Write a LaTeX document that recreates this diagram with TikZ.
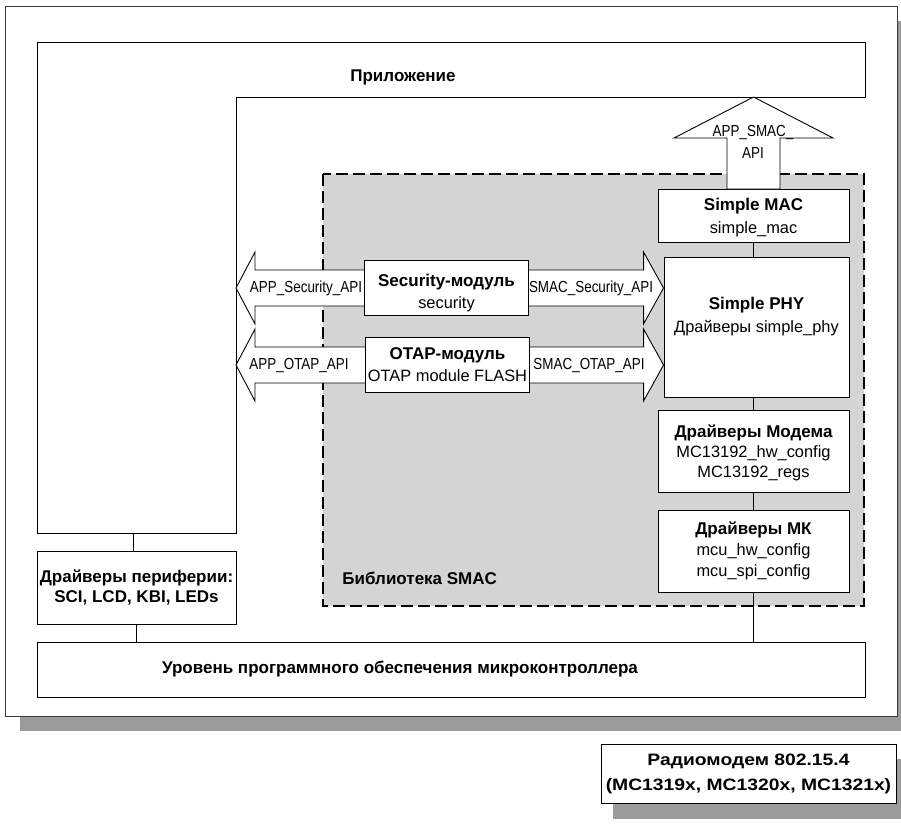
\documentclass[tikz,border=0pt]{standalone}
\usepackage{fontspec}
\setmainfont{Liberation Sans}
\newfontfamily\apifont{Liberation Sans}[FakeStretch=0.84]
\newfontfamily\widefont{Liberation Sans}[FakeStretch=1.17]
\usetikzlibrary{positioning,calc}

\definecolor{libgray}{HTML}{D4D4D4}
\definecolor{shadowgray}{HTML}{9C9C9C}
\definecolor{framegray}{HTML}{3A3A3A}

% double API arrow between two tips on one line
\newcommand{\apiarrow}[2]{%
  \draw[fill=white] (#1) -- ++(19,-36) -- ++(0,18) -- ($(#2)+(-20,-18)$)
    -- ++(0,-18) -- (#2) -- ++(-20,36) -- ++(0,-18) -- ($(#1)+(19,18)$)
    -- ++(0,18) -- cycle;}
\newcommand{\hd}[1]{{\fontsize{17}{22}\selectfont\bfseries #1}}

\begin{document}
\begin{tikzpicture}[x=1pt,y=-1pt,line width=0.9pt,
    every node/.style={font=\fontsize{16.4}{22}\selectfont},
    box/.style={draw,fill=white,align=center,inner sep=0pt},
    txt/.style={align=center,inner sep=0pt},
    api/.style={txt,font=\apifont\fontsize{16}{21}\selectfont},
    bf/.style={txt,font=\bfseries\fontsize{17}{21}\selectfont}]
  \useasboundingbox (0,0) rectangle (901,823);

  % outer frame with shadow
  \fill[shadowgray] (20,21) rectangle (912,731);
  \draw[framegray,fill=white] (5,6) rectangle (897,716);

  % application
  \draw[fill=white] (37,42) -- (865,42) -- (865,97) -- (236,97) -- (236,533) -- (37,533) -- cycle;
  \node[bf] (app) at (403,77) {Приложение};
  \coordinate (appbase) at (133,533);

  % SMAC library
  \draw[fill=libgray,line width=1.2pt,dash pattern=on 12pt off 5pt] (323,174) rectangle (864,606);
  \node[bf,anchor=west] (libname) at (342,578) {Библиотека SMAC};

  % layers
  \node[box,font=\fontsize{16.4}{23}\selectfont,minimum width=191,minimum height=53] (mac) at (753.5,215.5)
    {\rule{0pt}{17pt}\hd{Simple MAC}\\simple\_mac};
  \node[box,minimum width=185,minimum height=140] (phy) at (756.5,327) {};
  \node[txt,font=\fontsize{16.4}{23}\selectfont] (phytext) at (756.5,317) {\hd{Simple PHY}\\Драйверы simple\_phy};
  \node[box,font=\fontsize{16.4}{20}\selectfont,minimum width=191,minimum height=82] (modem) at (753.5,451)
    {\rule{0pt}{17pt}\hd{Драйверы Модема}\\MC13192\_hw\_config\\MC13192\_regs};
  \node[box,font=\fontsize{16.4}{21}\selectfont,minimum width=191,minimum height=82] (mcudrv) at (753.5,551)
    {\hd{Драйверы МК}\\mcu\_hw\_config\\mcu\_spi\_config};
  \node[box,font=\bfseries\fontsize{17}{20}\selectfont,minimum width=199,minimum height=73] (periph) at (136.5,587.5)
    {Драйверы периферии:\\SCI, LCD, KBI, LEDs};
  \node[box,minimum width=828,minimum height=55] (mcu) at (451,669.5) {};
  \node[bf] (mcutext) at (400,669.5) {Уровень программного обеспечения микроконтроллера};

  % API arrows
  \coordinate (sectip) at (236,288);
  \coordinate (otaptip) at (236,365);
  \apiarrow{sectip}{phy.west |- sectip}
  \apiarrow{otaptip}{phy.west |- otaptip}
  \node[box,minimum width=164,minimum height=55] (secmod) at (446.5,287.5)
    {\rule{0pt}{22.5pt}\hd{Security-модуль}\\security};
  \node[box,minimum width=164,minimum height=55] (otapmod) at (447.5,364.5)
    {\hd{OTAP-модуль}\\OTAP module FLASH};
  \node[api] (appsec) at (306,288) {APP\_Security\_API};
  \node[api] (smacsec) at (591,288) {SMAC\_Security\_API};
  \node[api] (appotap) at (299,365) {APP\_OTAP\_API};
  \node[api] (smacotap) at (589,365) {SMAC\_OTAP\_API};

  \coordinate (smactip) at (753.5,97);
  \draw[fill=white] (smactip) -- (833,138) -- (780,138) -- (780,189) -- (727,189)
    -- (727,138) -- (674,138) -- cycle;
  \node[api,font=\apifont\fontsize{16}{22}\selectfont] (smacapi) at (753,142) {APP\_SMAC\_\\API};

  % links
  \draw (mac.south) -- (mac.south |- phy.north);
  \draw (modem.north) -- (modem.north |- phy.south);
  \draw (modem.south) -- (modem.south |- mcudrv.north);
  \draw (mcudrv.south) -- (mcudrv.south |- mcu.north);
  \draw (appbase) -- (appbase |- periph.north);
  \draw (periph.south) -- (periph.south |- mcu.north);

  % radio modem
  \fill[shadowgray] (613,759) rectangle (912,819);
  \node[box,font=\widefont\bfseries\fontsize{16.5}{25}\selectfont,minimum width=295,minimum height=59] (radio) at (748.5,773.5)
    {Радиомодем 802.15.4\\(MC1319x, MC1320x, MC1321x)};
\end{tikzpicture}
\end{document}
